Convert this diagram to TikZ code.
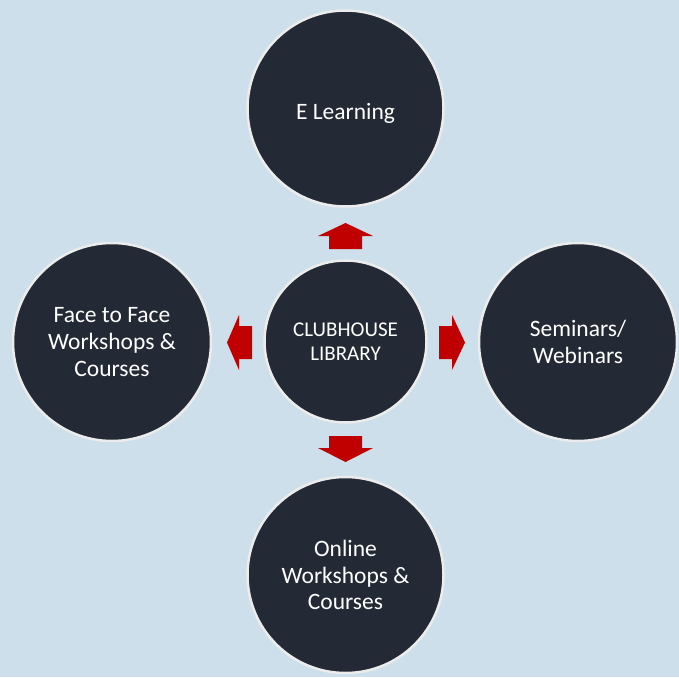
\documentclass[tikz,border=0pt]{standalone}
\usepackage{fontspec}
\setmainfont{Carlito}
\definecolor{bg}{HTML}{CCDFEA}
\definecolor{circ}{HTML}{232A35}
\definecolor{ring}{HTML}{ECECEC}
\definecolor{arr}{HTML}{C00000}
\begin{document}
\begin{tikzpicture}[x=1pt,y=-1pt,
  bubble/.style={circle,fill=circ,draw=ring,line width=2.5pt,inner sep=0pt},
  txt/.style={text=white,align=center,inner sep=0pt,font=\fontsize{23.5}{26.7}\selectfont},
  hubtxt/.style={txt,font=\fontsize{21}{24}\selectfont},
  blockarrow/.style={fill=arr,draw=none}]
\fill[bg] (0,0) rectangle (679,677);
\useasboundingbox (0,0) rectangle (679,677);
\node[bubble,minimum size=196pt] (top) at (345.5,108.5) {};
\node[bubble,minimum size=162pt] (hub) at (345.5,341.5) {};
\node[bubble,minimum size=198pt] (left) at (112,342) {};
\node[bubble,minimum size=198pt] (right) at (578,342) {};
\node[bubble,minimum size=196pt] (bottom) at (345.5,575) {};
\node[txt] (toptext) at ([yshift=-4.5pt]top.center) {E Learning};
\node[hubtxt] (hubtext) at ([yshift=-0.5pt]hub.center) {CLUBHOUSE\\LIBRARY};
\node[txt] (lefttext) at (left.center) {Face to Face\\Workshops \&\\Courses};
\node[txt] (righttext) at (right.center) {Seminars/\\Webinars};
\node[txt] (bottomtext) at (bottom.center) {Online\\Workshops \&\\Courses};
% up arrow
\fill[blockarrow] (329,249) -- (329,236) -- (318,236) -- (345.5,223) -- (373,236) -- (362,236) -- (362,249) -- cycle;
% down arrow
\fill[blockarrow] (329,436) -- (329,448) -- (318,448) -- (345.5,462) -- (373,448) -- (362,448) -- (362,436) -- cycle;
% left arrow
\fill[blockarrow] (252,326) -- (239,326) -- (239,315) -- (227,342.5) -- (239,370) -- (239,359) -- (252,359) -- cycle;
% right arrow
\fill[blockarrow] (439,326) -- (452,326) -- (452,315) -- (465,342.5) -- (452,370) -- (452,359) -- (439,359) -- cycle;
\end{tikzpicture}
\end{document}
